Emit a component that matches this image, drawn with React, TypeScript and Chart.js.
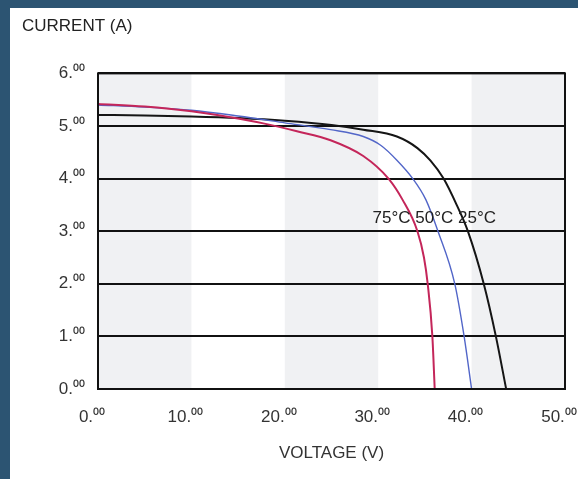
import React, { useEffect, useRef } from "react";
import { Chart, registerables } from "chart.js";

Chart.register(...registerables);

// ---- data ----
const V_TICKS = [0, 10, 20, 30, 40, 50];
const I_TICKS = [0, 1, 2, 3, 4, 5, 6];
const SHADED_BANDS = [[0, 10], [20, 30], [40, 50]];

// 25 °C (black)
const V_25 = [0, 5, 10, 15, 20, 25, 28.4, 32, 34.2, 35.6, 37, 38.4, 39.6, 41.3, 42.6, 43.7];
const I_25 = [5.21, 5.2, 5.18, 5.15, 5.1, 5.02, 4.93, 4.8, 4.58, 4.34, 4.0, 3.5, 3.0, 2.0, 1.0, 0];

// 50 °C (blue)
const V_50 = [0, 5, 10, 15, 20, 24.9, 28.4, 30.3, 32, 33.7, 35.1, 36.4, 38.2, 39.2, 40.0];
const I_50 = [5.4, 5.36, 5.3, 5.19, 5.06, 4.93, 4.8, 4.63, 4.35, 4.0, 3.6, 3.0, 2.0, 1.0, 0];

// 75 °C (red)
const V_75 = [0, 5, 10, 14, 17.7, 21.3, 24.9, 28.4, 31.1, 32.6, 34.2, 34.9, 35.3, 35.8, 36.05];
const I_75 = [5.42, 5.37, 5.28, 5.17, 5.05, 4.9, 4.73, 4.43, 4.0, 3.6, 3.0, 2.5, 2.0, 1.0, 0];

const CURVE_LABEL = "75°C 50°C 25°C";
const CURVE_LABEL_AT = { v: 29.4, i: 3.25 };

const Y_TITLE = "CURRENT (A)";
const X_TITLE = "VOLTAGE (V)";

const FONT = "'Liberation Sans', Arial, sans-serif";

const toPoints = (xs: number[], ys: number[]) => xs.map((x, k) => ({ x, y: ys[k] }));

const bandsPlugin = {
  id: "bands",
  beforeDraw(chart: any) {
    const { ctx, chartArea, scales } = chart;
    ctx.save();
    ctx.fillStyle = "#f0f1f3";
    for (const [a, b] of SHADED_BANDS) {
      const x1 = scales.x.getPixelForValue(a);
      const x2 = scales.x.getPixelForValue(b);
      ctx.fillRect(x1, chartArea.top, x2 - x1, chartArea.bottom - chartArea.top);
    }
    ctx.restore();
  },
};

const frameAndLabelPlugin = {
  id: "frameAndLabel",
  afterDatasetsDraw(chart: any) {
    const { ctx, chartArea, scales } = chart;
    ctx.save();
    ctx.strokeStyle = "#111";
    ctx.lineWidth = 2;
    ctx.strokeRect(chartArea.left, chartArea.top, chartArea.right - chartArea.left, chartArea.bottom - chartArea.top);
    ctx.font = `17px ${FONT}`;
    ctx.fillStyle = "#222";
    ctx.textAlign = "left";
    ctx.textBaseline = "middle";
    ctx.fillText(CURVE_LABEL, scales.x.getPixelForValue(CURVE_LABEL_AT.v), scales.y.getPixelForValue(CURVE_LABEL_AT.i));
    ctx.restore();
  },
};

export default function App() {
  const ref = useRef<HTMLCanvasElement | null>(null);

  useEffect(() => {
    if (!ref.current) return;
    const chart = new Chart(ref.current, {
      type: "line",
      data: {
        datasets: [
          { label: "75°C", data: toPoints(V_75, I_75), borderColor: "#c4265a", borderWidth: 2 },
          { label: "50°C", data: toPoints(V_50, I_50), borderColor: "#5266c8", borderWidth: 1.4 },
          { label: "25°C", data: toPoints(V_25, I_25), borderColor: "#151515", borderWidth: 2 },
        ].map((d) => ({ ...d, pointRadius: 0, fill: false, cubicInterpolationMode: "monotone" as const })),
      },
      options: {
        animation: false,
        responsive: false,
        events: [],
        layout: { padding: { left: 12, right: 13, top: 0, bottom: 0 } },
        plugins: {
          legend: { display: false },
          tooltip: { enabled: false },
          title: {
            display: true,
            text: Y_TITLE,
            align: "start",
            color: "#222",
            font: { family: FONT, size: 17, weight: "normal" },
            padding: { top: 8, bottom: 37 },
          },
        },
        scales: {
          x: {
            type: "linear",
            min: 0,
            max: 50,
            afterBuildTicks: (s: any) => { s.ticks = V_TICKS.map((value) => ({ value })); },
            afterFit: (s: any) => { s.height = 90; s.paddingLeft = 0; s.paddingRight = 0; },
            grid: { display: false, drawTicks: false },
            border: { display: false },
            ticks: {
              color: "#333",
              padding: 18,
              labelOffset: -6,
              maxRotation: 0,
              font: { family: FONT, size: 17 },
              callback: (v: any) => `${v}.⁰⁰`,
            },
            title: {
              display: true,
              text: X_TITLE,
              color: "#333",
              font: { family: FONT, size: 17 },
              padding: { top: 0, bottom: 15 },
            },
          },
          y: {
            type: "linear",
            min: 0,
            max: 6,
            afterBuildTicks: (s: any) => { s.ticks = I_TICKS.map((value) => ({ value })); },
            afterFit: (s: any) => { s.width = 76; },
            grid: { color: "#111", lineWidth: 2, drawTicks: false },
            border: { display: false },
            ticks: {
              color: "#333",
              padding: 13,
              font: { family: FONT, size: 17 },
              callback: (v: any) => `${v}.⁰⁰`,
            },
          },
        },
      },
      plugins: [bandsPlugin, frameAndLabelPlugin],
    });
    return () => chart.destroy();
  }, []);

  return (
    <div style={{ position: "fixed", left: 0, top: 0, width: 578, height: 479, background: "#2c5472" }}>
      <div style={{ position: "absolute", left: 10, top: 8, width: 568, height: 471, background: "#fff" }}>
        <canvas ref={ref} width={568} height={471} style={{ display: "block" }} />
      </div>
    </div>
  );
}
